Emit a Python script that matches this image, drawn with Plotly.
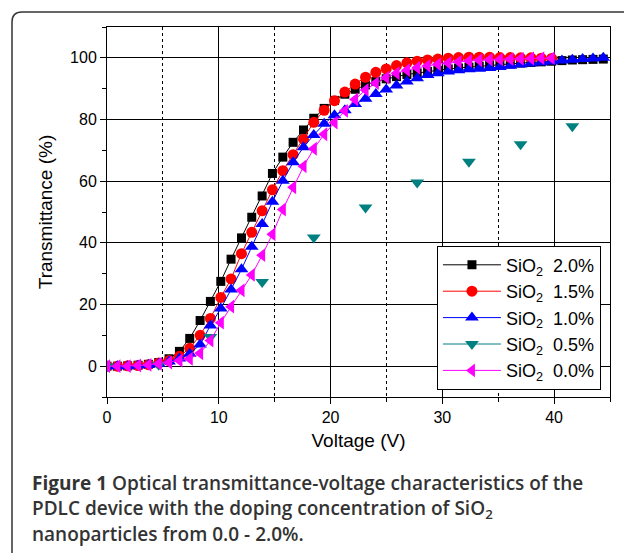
import plotly.graph_objects as go

# ---- data ----
voltage = [0, 0.93, 1.85, 2.78, 3.7, 4.63, 5.55, 6.48, 7.4, 8.33, 9.25, 10.18, 11.1, 12.03,
           12.95, 13.88, 14.8, 15.73, 16.65, 17.58, 18.5, 19.43, 20.35, 21.28, 22.2, 23.13,
           24.05, 24.98, 25.9, 26.83, 27.75, 28.68, 29.6, 30.53, 31.45, 32.38, 33.3, 34.23,
           35.15, 36.08, 37.0, 37.93, 38.85, 39.78, 40.7, 41.63, 42.55, 43.48, 44.4]

t_20 = [0, 0, 0.1, 0.3, 0.6, 1.2, 2.4, 4.8, 9.0, 14.8, 21.0, 27.5, 34.7, 41.6, 48.3, 55.2,
        62.5, 67.8, 72.6, 76.6, 80.4, 83.6, 86.2, 88.2, 89.8, 91.2, 92.3, 93.2, 93.9, 94.6,
        95.1, 95.6, 96.0, 96.4, 96.7, 97.0, 97.3, 97.6, 97.8, 98.0, 98.3, 98.5, 98.7, 98.9,
        99.1, 99.3, 99.4, 99.5, 99.6]

t_15 = [0, 0, 0.1, 0.2, 0.5, 1.0, 1.8, 3.2, 5.8, 10.0, 15.5, 22.3, 28.3, 36.5, 43.4, 50.4,
        57.2, 63.4, 68.6, 73.6, 79.1, 83.0, 86.1, 88.9, 91.5, 93.7, 95.3, 96.4, 97.5, 98.4,
        98.9, 99.3, 99.6, 99.9, 100.1, 100.2, 100.2, 100.2, 100.1, 100.1, 100.0, 100.0,
        99.9, 99.8]

t_10 = [0, 0, 0, 0.2, 0.4, 0.8, 1.5, 2.5, 4.0, 7.0, 13.2, 18.7, 24.9, 31.4, 38.7, 46.1,
        53.3, 60.1, 66.1, 71.0, 75.0, 78.6, 81.4, 83.0, 85.0, 86.7, 88.3, 89.7, 91.0, 92.3,
        93.4, 94.4, 95.0, 95.6, 96.0, 96.3, 96.5, 96.7, 97.0, 97.4, 97.8, 98.2, 98.5, 98.8,
        99.1, 99.4, 99.6, 99.8, 100.0]

v_05 = [0, 4.63, 9.25, 13.88, 18.5, 23.13, 27.75, 32.38, 37.0, 41.63]
t_05 = [0, 0.5, 9.5, 27.3, 41.7, 51.5, 59.6, 66.3, 72.0, 77.8]

t_00 = [0, 0, 0, 0.2, 0.4, 0.8, 1.2, 1.8, 2.4, 4.2, 8.3, 14.1, 19.3, 24.6, 29.6, 36.0,
        42.8, 50.8, 58.0, 64.8, 70.5, 75.2, 79.0, 82.8, 86.5, 89.6, 91.8, 93.6, 95.0, 96.0,
        96.8, 97.4, 97.9, 98.3, 98.7, 99.0, 99.2, 99.4, 99.5, 99.6, 99.7, 99.8, 99.9, 99.9]

series_names = ["SiO<sub>2</sub>  2.0%", "SiO<sub>2</sub>  1.5%", "SiO<sub>2</sub>  1.0%",
                "SiO<sub>2</sub>  0.5%", "SiO<sub>2</sub>  0.0%"]
x_ticks = [0, 10, 20, 30, 40]
y_ticks = [0, 20, 40, 60, 80, 100]

FONT = "Liberation Sans"

fig = go.Figure()

def add_series(x, y, name, color, symbol, size):
    fig.add_trace(go.Scatter(
        x=x, y=y, name=name, mode="lines+markers",
        line=dict(color=color, width=1),
        marker=dict(symbol=symbol, size=size, color=color, line=dict(width=0)),
    ))

add_series(voltage[:len(t_20)], t_20, series_names[0], "#000000", "square", 9)
add_series(voltage[:len(t_15)], t_15, series_names[1], "#ff0000", "circle", 11)
add_series(voltage[:len(t_10)], t_10, series_names[2], "#0000ff", "triangle-up", 12)

# 0.5% series: markers only in the plot, but a line sample in the legend
x05, y05 = [], []
for xv, yv in zip(v_05, t_05):
    x05 += [xv, None]
    y05 += [yv, None]
fig.add_trace(go.Scatter(
    x=x05, y=y05, name=series_names[3], mode="lines+markers", connectgaps=False,
    line=dict(color="#008080", width=1),
    marker=dict(symbol="triangle-down", size=12, color="#008080", line=dict(width=0)),
))
add_series(voltage[:len(t_00)], t_00, series_names[4], "#ff00ff", "triangle-left", 12)

axis_common = dict(
    showline=True, linecolor="#000", linewidth=1, mirror=True,
    ticks="outside", ticklen=6, tickcolor="#000", tickwidth=1,
    showgrid=True, gridcolor="#000", gridwidth=1, zeroline=False,
    tickfont=dict(family=FONT, size=16, color="#000"),
)

fig.update_xaxes(
    range=[0, 45], tickvals=x_ticks, **axis_common,
    minor=dict(dtick=5, tick0=0, ticks="outside", ticklen=4, tickcolor="#000",
               showgrid=True, gridcolor="#000", griddash="dot", gridwidth=1),
    title=dict(text="Voltage (V)", font=dict(family=FONT, size=19, color="#000"), standoff=8),
)
fig.update_yaxes(
    range=[-10, 110], tickvals=y_ticks, **axis_common,
    minor=dict(dtick=10, tick0=0, ticks="outside", ticklen=4, tickcolor="#000", showgrid=False),
    title=dict(text="Transmittance (%)", font=dict(family=FONT, size=19, color="#000"), standoff=12),
)

# outer rounded frame (pixel -> paper conversion)
L, R, T, B = 107, 14, 27, 156
W, H = 624, 553
pw, ph = W - L - R, H - T - B
def px(x):
    return (x - L) / pw
def py(y):
    return (H - B - y) / ph
r = 10
path = (f"M {px(12)},{py(560)} L {px(12)},{py(12 + r)} "
        f"Q {px(12)},{py(12)} {px(12 + r)},{py(12)} L {px(640)},{py(12)}")
fig.add_shape(type="path", path=path, xref="paper", yref="paper",
              line=dict(color="#333", width=1.5), layer="below")

cap_font = dict(family="Open Sans", size=19, color="#333333", weight=600)
captions = [
    "<b>Figure 1</b> Optical transmittance-voltage characteristics of the",
    "PDLC device with the doping concentration of SiO<sub>2</sub>",
    "nanoparticles from 0.0 - 2.0%.",
]
cap_y = [483, 509, 534]
for txt, yy in zip(captions, cap_y):
    fig.add_annotation(text=txt, x=px(30), y=py(yy), xref="paper", yref="paper",
                       xanchor="left", yanchor="middle", showarrow=False,
                       font=cap_font, align="left")

fig.update_layout(
    width=W, height=H,
    margin=dict(l=L, r=R, t=T, b=B, autoexpand=False),
    paper_bgcolor="white", plot_bgcolor="white",
    font=dict(family=FONT, color="#000"),
    legend=dict(x=0.982, y=0.02, xanchor="right", yanchor="bottom",
                bgcolor="white", bordercolor="#000", borderwidth=1,
                font=dict(family=FONT, size=18, color="#000"),
                tracegroupgap=0, itemwidth=58),
    showlegend=True,
)

fig.write_html("out.html", config={"displayModeBar": False},
               post_script="document.body.style.margin='0px';")
